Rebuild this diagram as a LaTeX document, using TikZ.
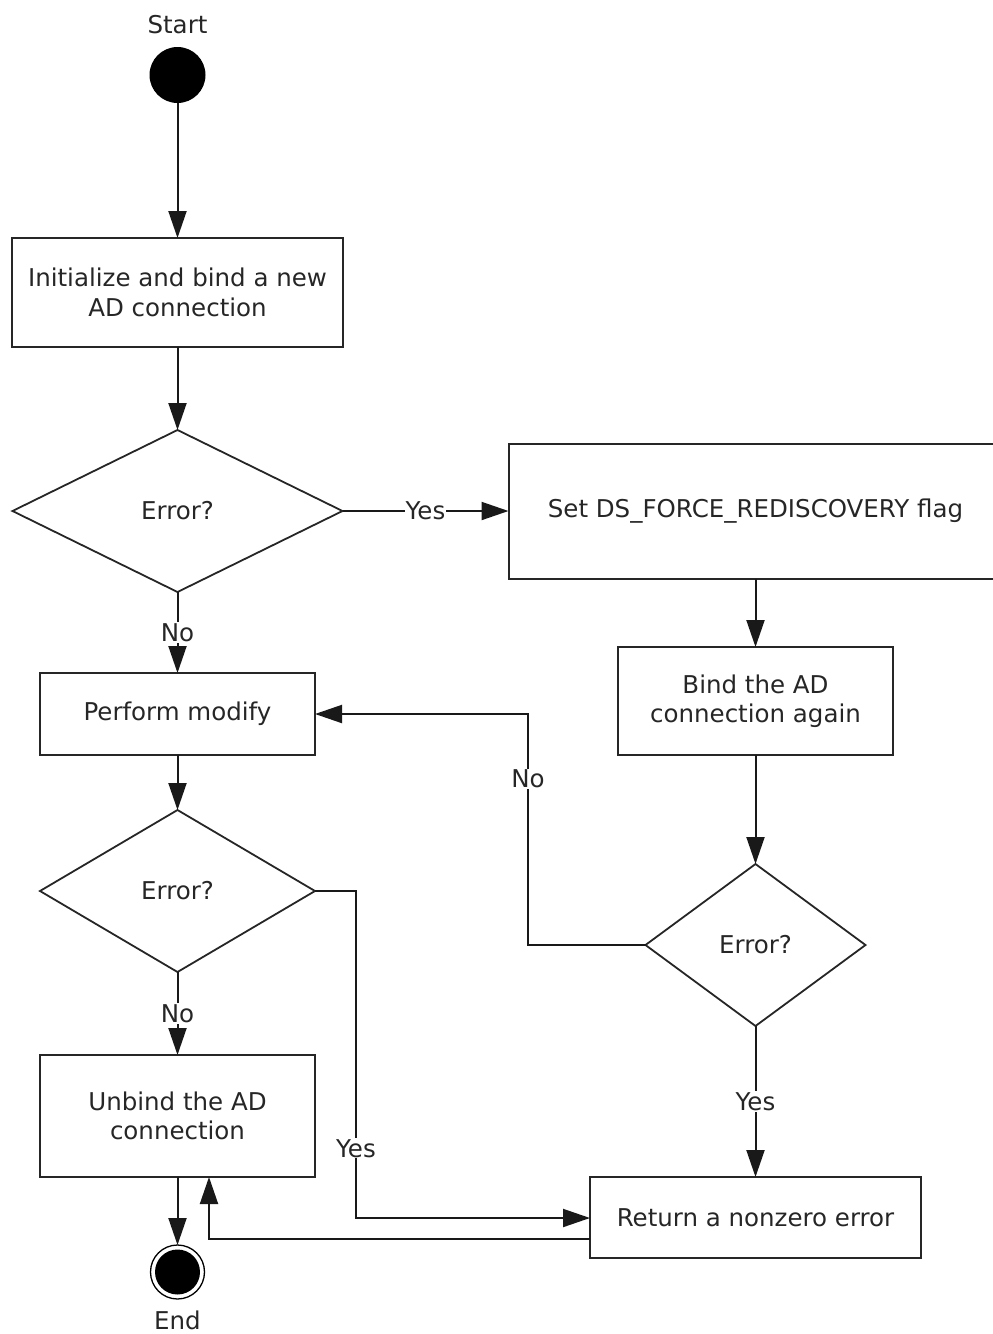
\documentclass[tikz,border=0pt]{standalone}
\usepackage{fontspec}
\setmainfont{DejaVu Sans}
\usetikzlibrary{arrows.meta,shapes.geometric,calc}
\begin{document}
\begin{tikzpicture}[x=1pt,y=-1pt,
  every node/.style={font=\fontsize{24.5}{29.5}\selectfont, text=black!85},
  ln/.style={line width=2pt, draw=black!90},
  arr/.style={ln, -{Triangle[length=27pt,width=18pt]}},
  box/.style={rectangle, draw=black!85, line width=2pt, align=center, inner sep=0pt, outer sep=0pt},
  dia/.style={diamond, draw=black!85, line width=1.8pt, inner sep=0pt, outer sep=0pt, aspect=2},
  lbl/.style={fill=white, inner sep=1pt}]
\useasboundingbox (0,0) rectangle (993,1334);
\clip (0,0) rectangle (993,1334);

\node (starttxt) at (177.5,25) {Start};
\node[circle, fill=black, minimum size=56pt, inner sep=0pt, outer sep=0pt] (start) at (177.5,75) {};

\node[box, minimum width=331pt, minimum height=109pt] (init) at (177.5,292.5) {Initialize and bind a new\\AD connection};
\node[dia, minimum width=330pt, minimum height=162pt] (d1) at (177.5,511) {Error?};
\node[box, minimum width=494pt, minimum height=135pt] (force) at (755.5,511) {Set DS\_FORCE\_REDISCOVERY flag};
\node[box, minimum width=275pt, minimum height=82pt] (modify) at (177.5,714) {Perform modify};
\node[box, minimum width=275pt, minimum height=108pt] (rebind) at (755.5,701) {Bind the AD\\connection again};
\node[dia, minimum width=275pt, minimum height=162pt] (d2) at (177.5,891) {Error?};
\node[dia, minimum width=220pt, minimum height=162pt] (d3) at (755.5,945) {Error?};
\node[box, minimum width=275pt, minimum height=122pt] (unbind) at (177.5,1116) {Unbind the AD\\connection};
\node[box, minimum width=331pt, minimum height=81pt] (ret) at (755.5,1217.5) {Return a nonzero error};

\node[circle, draw=black, line width=1.3pt, minimum size=54pt, inner sep=0pt, outer sep=0pt] (end) at (177.5,1272) {};
\node[circle, fill=black, minimum size=45pt, inner sep=0pt] (endin) at (end.center) {};
\node (endtxt) at (177.5,1320) {End};

\coordinate (c1) at (356,891);
\coordinate (c2) at (356,1218);
\coordinate (c3) at (528,945);
\coordinate (c4) at (528,714);
\coordinate (c5) at (590,1239);
\coordinate (c6) at (209,1239);

\draw[arr] (start) -- (init);
\draw[arr] (init) -- (d1);
\draw[arr] (d1) -- node[lbl] {Yes} (force);
\draw[arr] (d1) -- node[lbl] {No} (modify);
\draw[arr] (force) -- (rebind);
\draw[arr] (modify) -- (d2);
\draw[arr] (rebind) -- (d3);
\draw[arr] (d2) -- node[lbl] {No} (unbind);
\draw[arr] (d3) -- node[lbl] {Yes} (ret);
\draw[arr] (d2.east) -- (c1) -- node[lbl, pos=0.787] {Yes} (c2) -- (ret.west |- c2);
\draw[arr] (d3.west) -- (c3) -- node[lbl, pos=0.72] {No} (c4) -- (modify.east);
\draw[arr] (c5) -- (c6) -- (c6 |- unbind.south);
\draw[arr] (unbind.south -| end) -- (end);
\end{tikzpicture}
\end{document}
